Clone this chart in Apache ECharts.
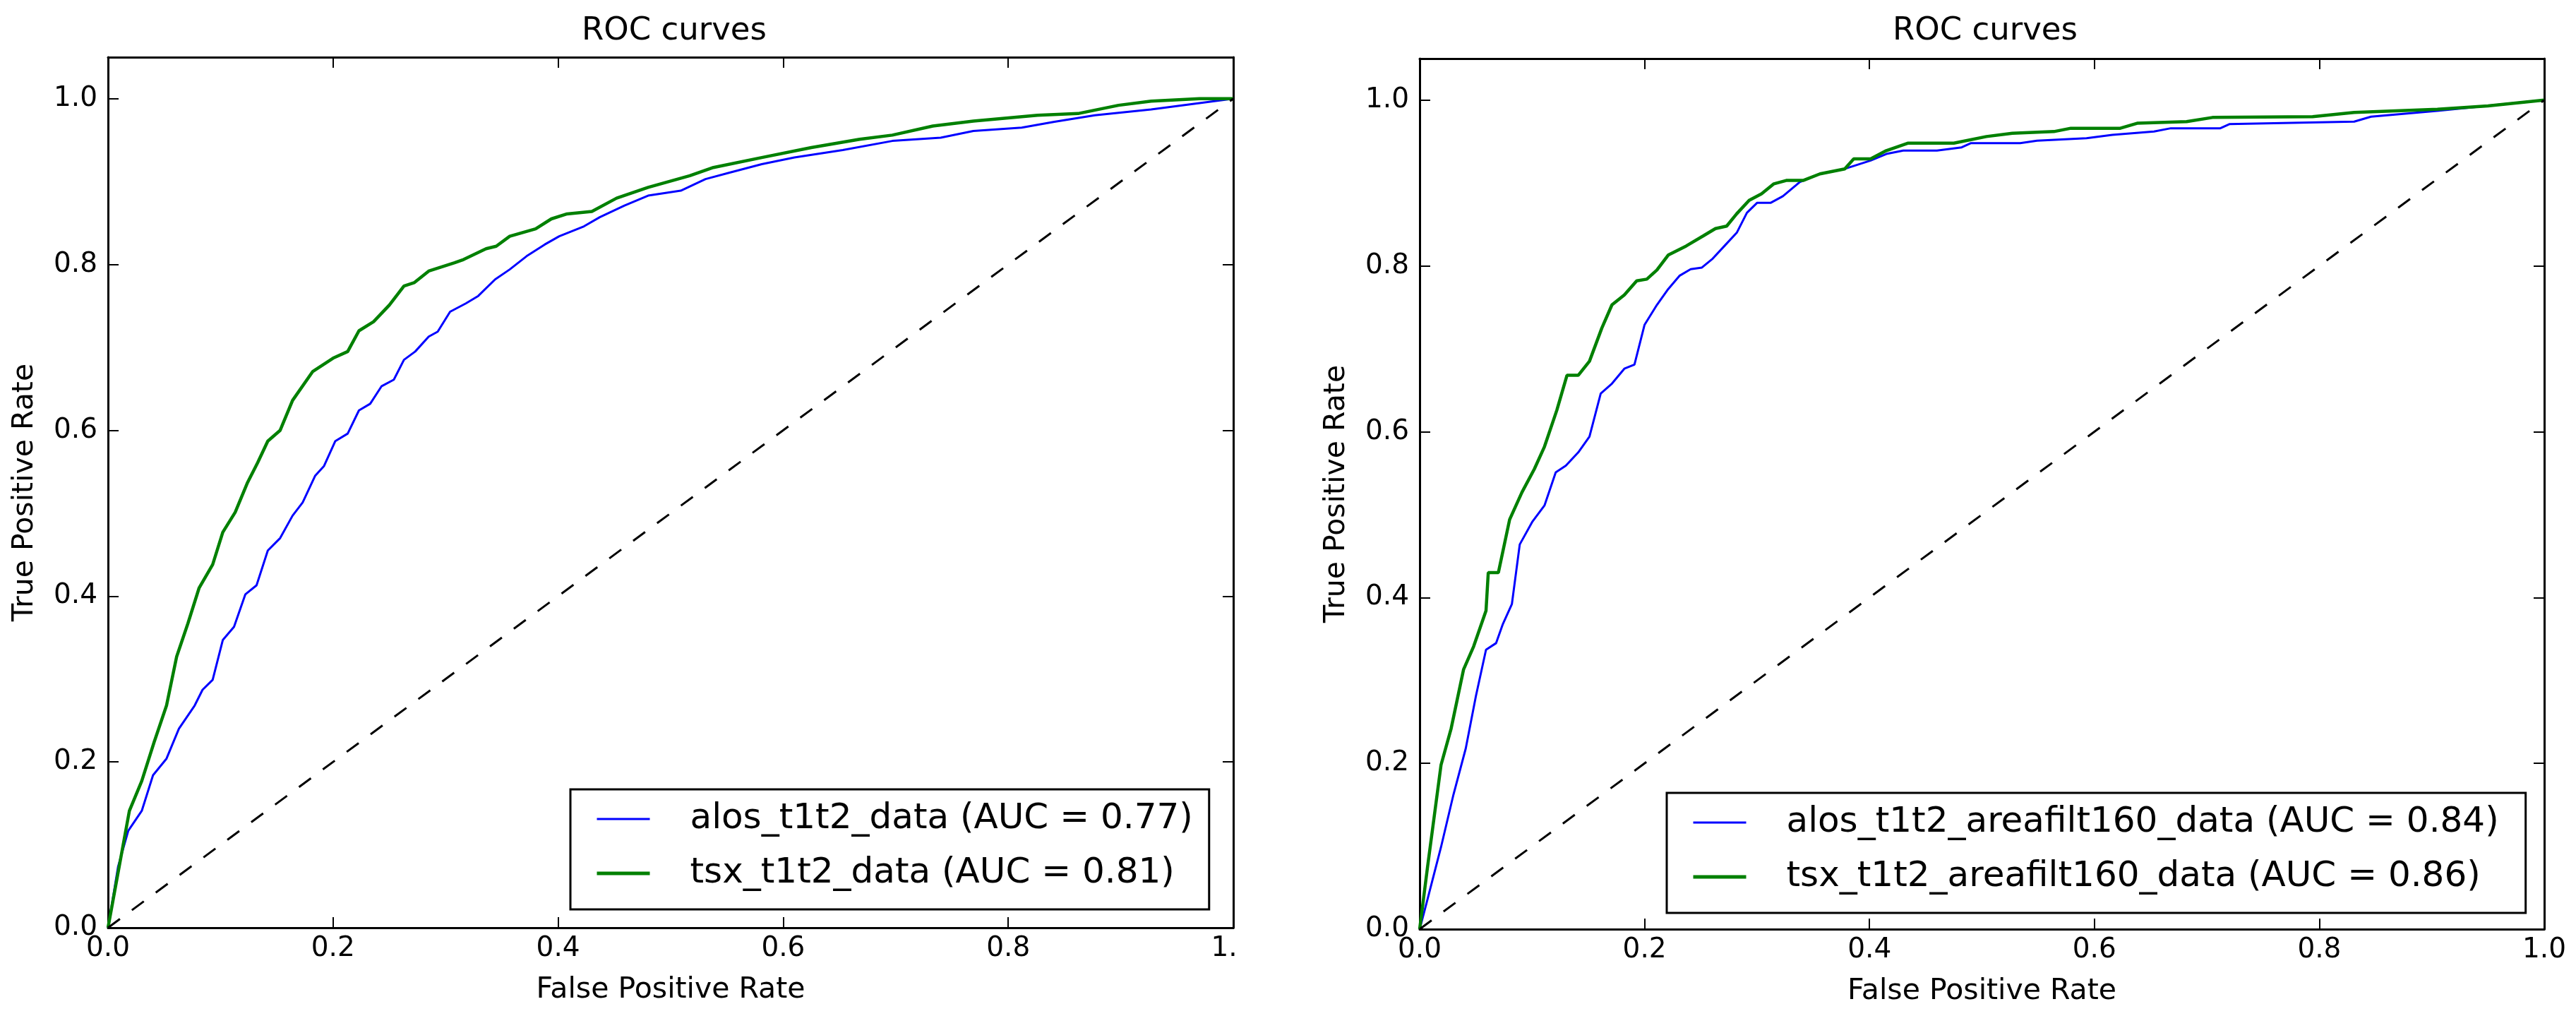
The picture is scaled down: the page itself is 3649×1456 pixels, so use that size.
<!DOCTYPE html>
<html>
<head>
<meta charset="utf-8">
<script src="https://cdn.jsdelivr.net/npm/echarts@6/dist/echarts.min.js"></script>
<style>
html,body{margin:0;padding:0;background:#fff;}
#chart{width:3649px;height:1456px;}
</style>
</head>
<body>
<div id="chart"></div>
<script>
// ---- Data ----
const titles = ['ROC curves', 'ROC curves'];
const xTickLabels = ['0.0', '0.2', '0.4', '0.6', '0.8', '1.0'];
const yTickLabels = ['0.0', '0.2', '0.4', '0.6', '0.8', '1.0'];

const leftNames = ['alos_t1t2_data (AUC = 0.77)', 'tsx_t1t2_data (AUC = 0.81)'];
const rightNames = ['alos_t1t2_areafilt160_data (AUC = 0.84)', 'tsx_t1t2_areafilt160_data (AUC = 0.86)'];

const leftAlosFpr = [0, 0.009, 0.018, 0.030, 0.040, 0.052, 0.063, 0.077, 0.084, 0.093, 0.102, 0.112, 0.122, 0.132, 0.142, 0.153, 0.164, 0.173, 0.184, 0.192, 0.202, 0.213, 0.223, 0.233, 0.243, 0.254, 0.263, 0.273, 0.285, 0.293, 0.304, 0.318, 0.329, 0.344, 0.357, 0.372, 0.388, 0.401, 0.423, 0.437, 0.459, 0.48, 0.509, 0.531, 0.553, 0.581, 0.61, 0.653, 0.697, 0.74, 0.769, 0.812, 0.841, 0.877, 0.927, 1];
const leftAlosTpr = [0, 0.074, 0.117, 0.141, 0.184, 0.204, 0.24, 0.268, 0.287, 0.299, 0.347, 0.363, 0.402, 0.413, 0.455, 0.47, 0.497, 0.513, 0.545, 0.557, 0.587, 0.596, 0.624, 0.632, 0.653, 0.661, 0.685, 0.695, 0.713, 0.719, 0.743, 0.753, 0.762, 0.782, 0.794, 0.81, 0.824, 0.834, 0.846, 0.857, 0.871, 0.883, 0.889, 0.903, 0.911, 0.921, 0.929, 0.938, 0.949, 0.953, 0.961, 0.965, 0.972, 0.98, 0.987, 1];

const leftTsxFpr = [0, 0.019, 0.030, 0.041, 0.052, 0.061, 0.071, 0.081, 0.093, 0.102, 0.113, 0.124, 0.133, 0.142, 0.153, 0.164, 0.182, 0.2, 0.213, 0.223, 0.236, 0.25, 0.263, 0.272, 0.285, 0.308, 0.316, 0.336, 0.345, 0.357, 0.38, 0.394, 0.408, 0.43, 0.452, 0.48, 0.517, 0.538, 0.581, 0.625, 0.668, 0.697, 0.733, 0.769, 0.826, 0.862, 0.898, 0.927, 0.97, 1];
const leftTsxTpr = [0, 0.141, 0.177, 0.224, 0.268, 0.327, 0.367, 0.41, 0.438, 0.477, 0.501, 0.537, 0.561, 0.587, 0.600, 0.636, 0.671, 0.687, 0.695, 0.72, 0.731, 0.751, 0.774, 0.778, 0.792, 0.802, 0.806, 0.819, 0.822, 0.834, 0.843, 0.855, 0.861, 0.864, 0.88, 0.893, 0.907, 0.917, 0.929, 0.941, 0.951, 0.956, 0.967, 0.973, 0.98, 0.982, 0.992, 0.997, 1.0, 1];

const rightAlosFpr = [0, 0.007, 0.019, 0.030, 0.041, 0.050, 0.059, 0.068, 0.074, 0.082, 0.089, 0.1, 0.111, 0.121, 0.130, 0.141, 0.151, 0.161, 0.171, 0.182, 0.191, 0.2, 0.211, 0.221, 0.231, 0.241, 0.251, 0.260, 0.271, 0.282, 0.291, 0.300, 0.312, 0.323, 0.338, 0.356, 0.378, 0.401, 0.415, 0.43, 0.46, 0.482, 0.49, 0.534, 0.549, 0.593, 0.616, 0.653, 0.668, 0.712, 0.72, 0.831, 0.846, 0.905, 1];
const rightAlosTpr = [0, 0.036, 0.099, 0.162, 0.218, 0.281, 0.337, 0.345, 0.368, 0.392, 0.464, 0.491, 0.511, 0.551, 0.559, 0.575, 0.594, 0.646, 0.658, 0.676, 0.681, 0.729, 0.753, 0.772, 0.788, 0.796, 0.798, 0.808, 0.824, 0.840, 0.864, 0.876, 0.876, 0.884, 0.901, 0.911, 0.917, 0.927, 0.935, 0.939, 0.939, 0.943, 0.948, 0.948, 0.951, 0.954, 0.958, 0.962, 0.966, 0.966, 0.971, 0.974, 0.98, 0.987, 1];

const rightTsxFpr = [0, 0.007, 0.019, 0.028, 0.039, 0.048, 0.059, 0.061, 0.070, 0.080, 0.091, 0.102, 0.111, 0.122, 0.131, 0.141, 0.151, 0.162, 0.171, 0.182, 0.193, 0.202, 0.211, 0.221, 0.237, 0.252, 0.263, 0.273, 0.282, 0.293, 0.304, 0.315, 0.326, 0.341, 0.356, 0.378, 0.386, 0.401, 0.415, 0.434, 0.475, 0.504, 0.527, 0.564, 0.579, 0.623, 0.638, 0.682, 0.705, 0.794, 0.831, 0.905, 0.95, 1];
const rightTsxTpr = [0, 0.075, 0.198, 0.242, 0.313, 0.341, 0.384, 0.43, 0.43, 0.494, 0.527, 0.555, 0.582, 0.626, 0.668, 0.668, 0.685, 0.725, 0.753, 0.765, 0.782, 0.784, 0.795, 0.813, 0.824, 0.836, 0.845, 0.848, 0.863, 0.879, 0.887, 0.899, 0.903, 0.903, 0.911, 0.917, 0.929, 0.929, 0.939, 0.948, 0.948, 0.956, 0.96, 0.962, 0.966, 0.966, 0.972, 0.974, 0.979, 0.98, 0.985, 0.989, 0.993, 1];

const chanceFpr = [0, 1];
const chanceTpr = [0, 1];

// ---- Build chart ----
const FONT = 'DejaVu Sans';
const zip = (a, b) => a.map((v, i) => [v, b[i]]);
const tickIdx = v => Math.round(v / 0.2);
const isMajor = v => Math.abs(v / 0.2 - Math.round(v / 0.2)) < 1e-6 && v <= 1.0000001;

const grids = [
  {left: 153, top: 81, width: 1594, height: 1233},
  {left: 2011, top: 83, width: 1593, height: 1233}
];

function axisCommon() {
  return {
    type: 'value', min: 0, interval: 0.2,
    axisLine: {show: true, onZero: false, lineStyle: {color: '#000', width: 3}},
    axisTick: {show: true, inside: true, length: 15, lineStyle: {color: '#000', width: 2}},
    splitLine: {show: false}
  };
}

const xAxes = [], yAxes = [];
grids.forEach((g, gi) => {
  xAxes.push(Object.assign(axisCommon(), {
    gridIndex: gi, max: 1, position: 'bottom',
    name: 'False Positive Rate', nameLocation: 'middle', nameGap: 68,
    nameTextStyle: {fontFamily: FONT, fontSize: 41, color: '#000'},
    axisLabel: {
      fontFamily: FONT, fontSize: 39, color: '#000', margin: 10,
      formatter: v => {
        if (!isMajor(v)) return '';
        const t = xTickLabels[tickIdx(v)];
        if (gi === 0 && tickIdx(v) === 5) return '{c|1.}';
        return t;
      },
      rich: {c: {fontFamily: FONT, fontSize: 39, color: '#000', padding: [0, 26, 0, 0]}}
    }
  }));
  xAxes.push(Object.assign(axisCommon(), {
    gridIndex: gi, max: 1, position: 'top', axisLabel: {show: false}
  }));
  yAxes.push(Object.assign(axisCommon(), {
    gridIndex: gi, max: 1.05, position: 'left',
    name: 'True Positive Rate', nameLocation: 'middle', nameGap: 97,
    nameTextStyle: {fontFamily: FONT, fontSize: 41, color: '#000'},
    axisLabel: {
      fontFamily: FONT, fontSize: 39, color: '#000', margin: 15,
      formatter: v => isMajor(v) ? yTickLabels[tickIdx(v)] : ''
    }
  }));
  yAxes.push(Object.assign(axisCommon(), {
    gridIndex: gi, max: 1.05, position: 'right', axisLabel: {show: false}
  }));
});

function curve(name, gi, fpr, tpr, color, width) {
  return {
    name, type: 'line', xAxisIndex: gi * 2, yAxisIndex: gi * 2,
    data: zip(fpr, tpr), symbol: 'none', showSymbol: false,
    lineStyle: {color, width}, itemStyle: {color}, animation: false
  };
}
function chance(gi) {
  return {
    name: 'chance' + gi, type: 'line', xAxisIndex: gi * 2, yAxisIndex: gi * 2,
    data: zip(chanceFpr, chanceTpr), symbol: 'none', showSymbol: false,
    lineStyle: {color: '#000', width: 3, type: [21, 21]}, animation: false, silent: true
  };
}

const BLUE = '#0000ff', GREEN = '#008000';
const NOSYM = {color: 'rgba(0,0,0,0)', borderWidth: 0, opacity: 0};

function legend(names, left, top, padR) {
  return {
    orient: 'vertical', left, top,
    itemWidth: 75, itemHeight: 20, itemGap: 27,
    padding: [17, padR, 26, 35],
    borderColor: '#000', borderWidth: 3, backgroundColor: '#fff',
    textStyle: {fontFamily: FONT, fontSize: 50, color: '#000', padding: [0, 0, 0, 52]},
    data: [
      {name: names[0], lineStyle: {width: 3, color: BLUE}, itemStyle: NOSYM},
      {name: names[1], lineStyle: {width: 5, color: GREEN}, itemStyle: NOSYM}
    ],
    selectedMode: false
  };
}

const option = {
  backgroundColor: '#fff',
  animation: false,
  title: [
    {text: titles[0], left: 950, top: 17, textAlign: 'center',
     textStyle: {fontFamily: FONT, fontSize: 45, fontWeight: 'normal', color: '#000'}},
    {text: titles[1], left: 2807, top: 17, textAlign: 'center',
     textStyle: {fontFamily: FONT, fontSize: 45, fontWeight: 'normal', color: '#000'}}
  ],
  grid: grids.map(g => Object.assign({show: false, containLabel: false}, g)),
  xAxis: xAxes,
  yAxis: yAxes,
  legend: [legend(leftNames, 808, 1118, 23), legend(rightNames, 2361, 1123, 38)],
  series: [
    curve(leftNames[0], 0, leftAlosFpr, leftAlosTpr, BLUE, 3),
    curve(leftNames[1], 0, leftTsxFpr, leftTsxTpr, GREEN, 4.5),
    chance(0),
    curve(rightNames[0], 1, rightAlosFpr, rightAlosTpr, BLUE, 3),
    curve(rightNames[1], 1, rightTsxFpr, rightTsxTpr, GREEN, 4.5),
    chance(1)
  ]
};

const chart = echarts.init(document.getElementById('chart'), null, {renderer: 'canvas'});
chart.setOption(option);
</script>
</body>
</html>
